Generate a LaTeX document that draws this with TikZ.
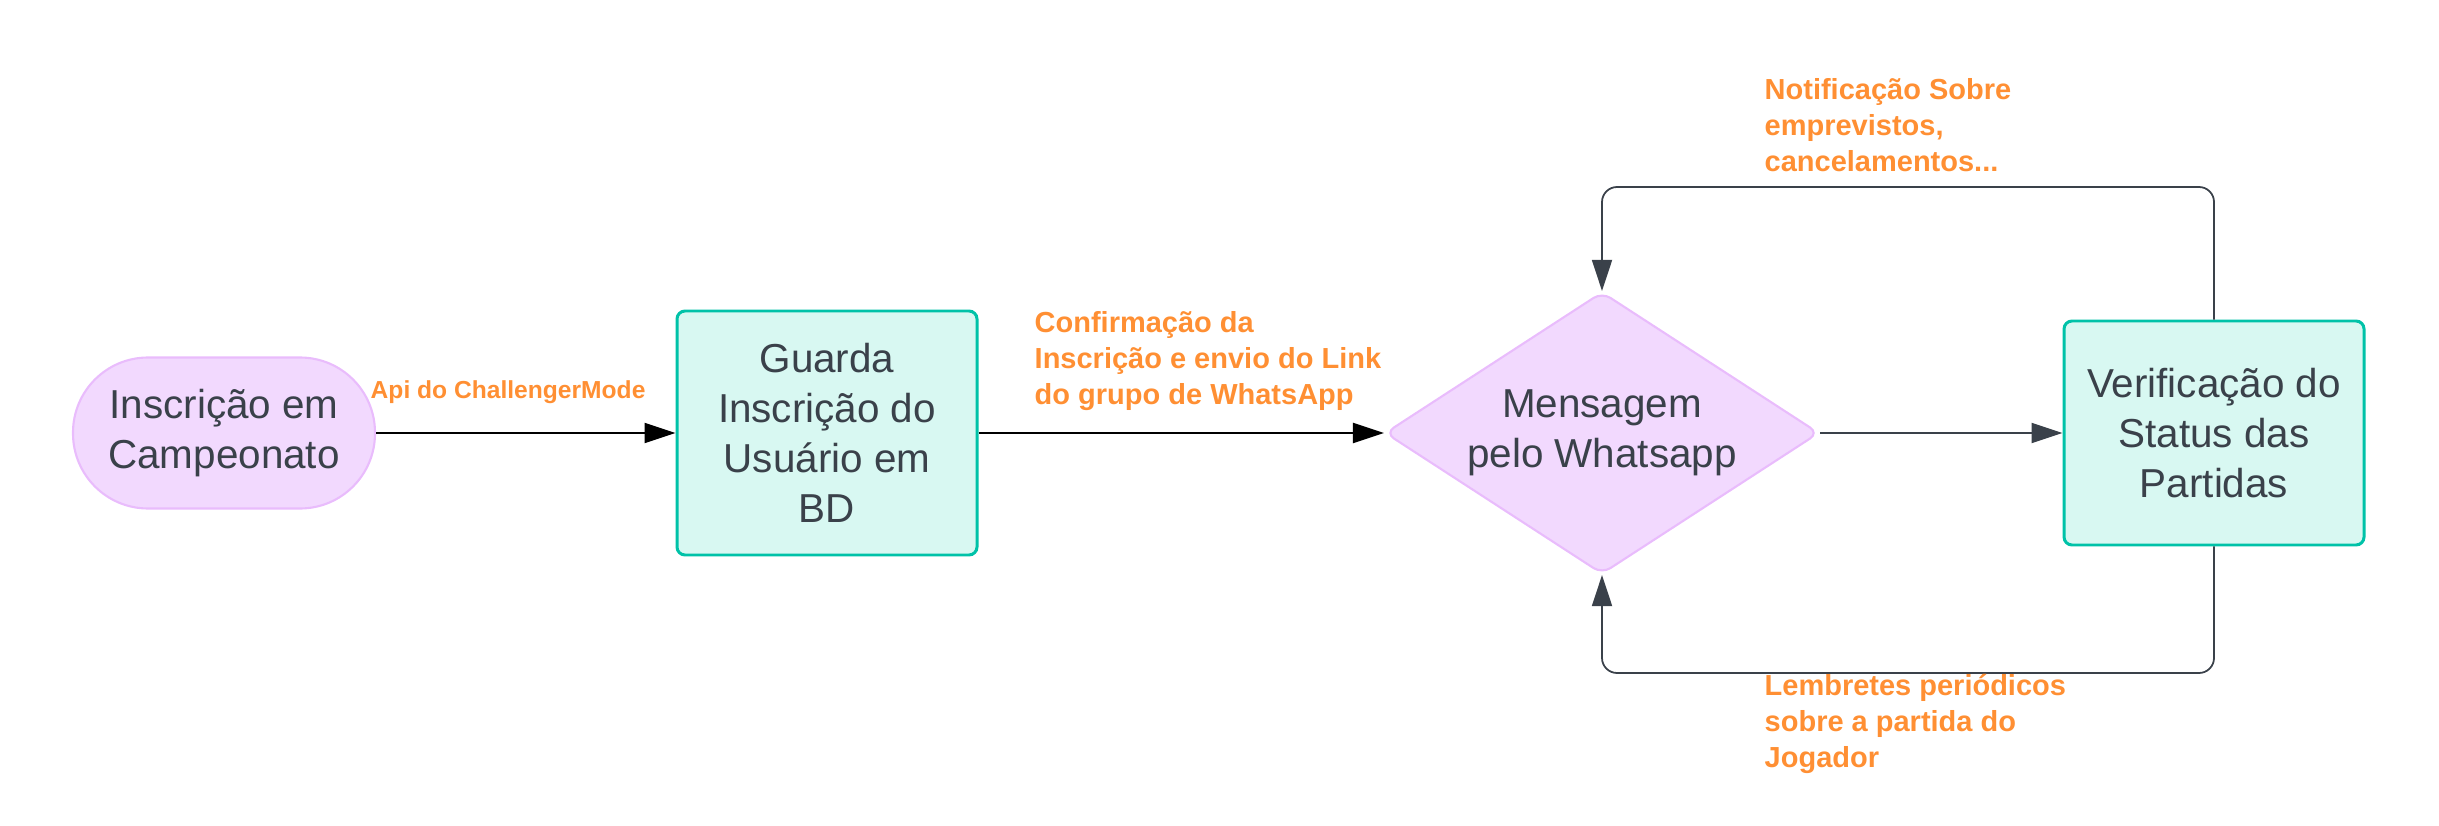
\documentclass[tikz,border=0pt]{standalone}
\usepackage{fontspec}
\setmainfont{Liberation Sans}
\usepackage{xcolor}
\usepackage{tikz}
\usetikzlibrary{shapes.geometric, calc, positioning, arrows.meta}

\definecolor{txtgray}{HTML}{3A414A}
\definecolor{lilacfill}{HTML}{F2D9FE}
\definecolor{lilacline}{HTML}{E9BCFC}
\definecolor{tealfill}{HTML}{D8F8F2}
\definecolor{tealline}{HTML}{00C2A8}
\definecolor{lblorange}{HTML}{FF8F33}

\begin{document}
\begin{tikzpicture}[
        boxtext/.style={text=txtgray, font=\fontsize{11.5}{14.2}\selectfont, align=center},
        procbox/.style={boxtext, draw=tealline, fill=tealfill, line width=0.85pt, rounded corners=0.08cm, minimum width=3cm, inner sep=0},
        lilac/.style={boxtext, draw=lilacline, fill=lilacfill, line width=0.6pt},
        flowlbl/.style={text=lblorange, font=\fontsize{8.25}{10.2}\selectfont\bfseries, align=left, anchor=west, inner sep=0},
        flowarrow/.style={-{Triangle[length=3.1mm, width=2mm]}, line width=0.6pt},
        loopline/.style={flowarrow, draw=txtgray, line width=0.5pt, rounded corners=0.15cm}
    ]
                    \useasboundingbox (0,0) rectangle (24.39,8.25);

                    % etapas
                    \node[lilac, rounded corners=0.75cm, minimum width=3.02cm, minimum height=1.51cm, inner sep=0] (insc) at (2.24,3.92) {Inscrição em\\Campeonato};
                    \node[procbox, minimum height=2.44cm] (guarda) at (8.27,3.92) {Guarda\\Inscrição do\\Usuário em\\BD};
                    \node[lilac, diamond, aspect=1.54, minimum width=4.34cm, minimum height=2.82cm, inner sep=0, rounded corners=0.1cm] (msg) at (16.02,3.92) {Mensagem\\pelo Whatsapp};
                    \node[procbox, minimum height=2.24cm] (verif) at (22.14,3.92) {Verificação do\\Status das\\Partidas};

                    % fluxo principal
                    \draw[flowarrow, draw=black] (insc) -- (guarda);
                    \draw[flowarrow, draw=black] (guarda) -- (msg);
                    \draw[flowarrow, draw=txtgray] (msg) -- (verif);

                    % voltas
                    \coordinate (topy) at (0,6.38);
                    \coordinate (boty) at (0,1.52);
                    \draw[loopline] (verif.north) -- (verif.north |- topy) -- (msg.north |- topy) -- (msg.north);
                    \draw[loopline] (verif.south) -- (verif.south |- boty) -- (msg.south |- boty) -- (msg.south);

                    % rotulos
                    \node[flowlbl, font=\fontsize{7}{10.2}\selectfont\bfseries] (apilbl) at (3.70,4.33) {Api do ChallengerMode};
                    \node[flowlbl] (conflbl) at (10.34,4.64) {Confirmação da\\Inscrição e envio do Link\\do grupo de WhatsApp};
                    \node[flowlbl] (notiflbl) at (17.64,7.00) {Notificação Sobre\\emprevistos,\\cancelamentos...};
                    \node[flowlbl] (lembrlbl) at (17.64,1.01) {Lembretes periódicos\\sobre a partida do\\Jogador};
                \end{tikzpicture}
\end{document}
